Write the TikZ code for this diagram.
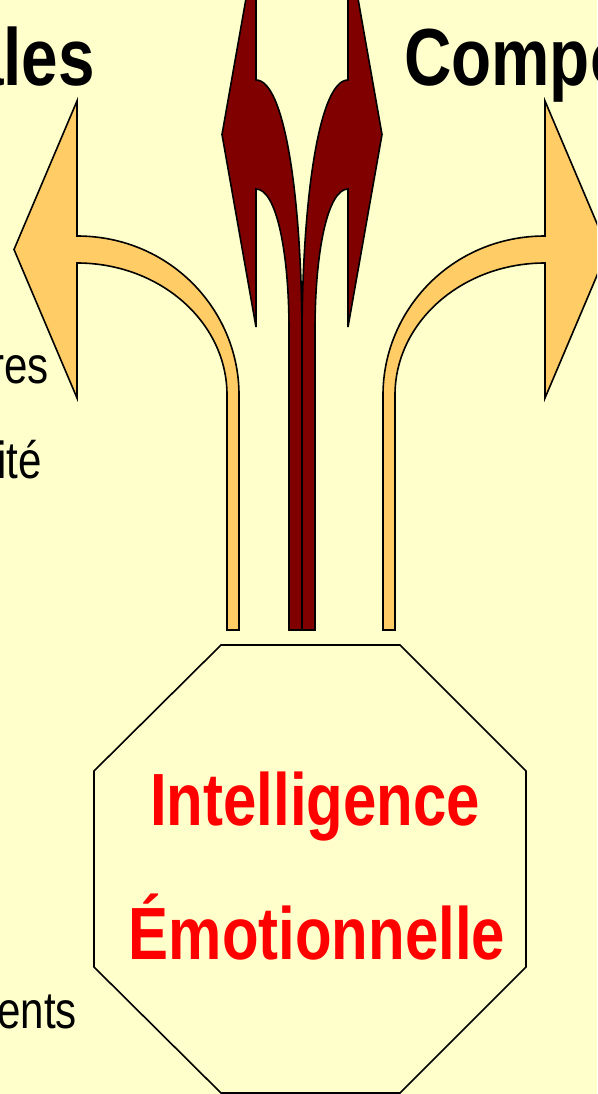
\documentclass[tikz,border=0pt]{standalone}
\usepackage{fontspec}
\setmainfont{Liberation Sans}[FakeStretch=0.81]
\definecolor{bgyellow}{HTML}{FFFFCC}
\definecolor{arroworange}{HTML}{FFCC66}
\definecolor{arrowred}{HTML}{800000}
\definecolor{textred}{HTML}{FF0000}
\begin{document}
\begin{tikzpicture}[x=1pt,y=-1pt,
  outline/.style={draw=black,line width=1.6pt,line join=miter},
  orangearrow/.style={outline,fill=arroworange},
  redarrow/.style={outline,fill=arrowred},
  octo/.style={draw=black,line width=1.6pt,fill=bgyellow},
  bigtitle/.style={inner sep=0pt,font=\fontsize{81}{90}\selectfont\bfseries,text=black},
  sidetext/.style={inner sep=0pt,font=\fontsize{52}{60}\selectfont,text=black},
  eitext/.style={inner sep=0pt,font=\fontsize{74}{80}\selectfont\bfseries,text=textred}]
\useasboundingbox (0,0) rectangle (597,1094);
\fill[bgyellow] (0,0) rectangle (597,1094);
\begin{scope}
\clip (0,0) rectangle (597,1094);
% left orange curved arrow
\path[orangearrow] (77,236) -- (77,101) -- (14,249.5) -- (77,398) -- (77,263)
  .. controls (159.8,263) and (227,322) .. (227,395) -- (227,630) -- (239,630) -- (239,395)
  .. controls (239,310) and (170,236) .. (77,236) -- cycle;
% right orange curved arrow
\path[orangearrow] (545,236) -- (545,101) -- (608,249.5) -- (545,398) -- (545,263)
  .. controls (462.2,263) and (395,322) .. (395,395) -- (395,630) -- (383,630) -- (383,395)
  .. controls (383,310) and (452,236) .. (545,236) -- cycle;
% left dark red arrow
\path[redarrow] (256,189) -- (256,327) -- (222,134.5) -- (256,-58) -- (256,80)
  .. controls (285,80) and (302,200) .. (302,340) -- (302,630) -- (289,630) -- (289,330)
  .. controls (289,250) and (276,189) .. (256,189) -- cycle;
% right dark red arrow
\path[redarrow] (348,189) -- (348,327) -- (382,134.5) -- (348,-58) -- (348,80)
  .. controls (319,80) and (302,200) .. (302,340) -- (302,630) -- (315,630) -- (315,330)
  .. controls (315,250) and (328,189) .. (348,189) -- cycle;
% octagon
\path[octo] (221,645) -- (400,645) -- (526,771) -- (526,967) -- (400,1093) -- (221,1093) -- (94,967) -- (94,771) -- cycle;
\node[eitext,anchor=base] (intel) at (315,825) {Intelligence};
\node[eitext,anchor=base] (emot) at (317,959) {Émotionnelle};
% titles
\node[bigtitle,anchor=base east] (ales) at (95,86) {ales};
\node[bigtitle,anchor=base west] (compo) at (404,86) {Compo};
% side texts
\node[sidetext,anchor=base east] (res) at (49,383) {res};
\node[sidetext,anchor=base east] (ite) at (42,478) {ité};
\node[sidetext,anchor=base east] (ents) at (77,1028) {ents};
\end{scope}
\end{tikzpicture}
\end{document}
